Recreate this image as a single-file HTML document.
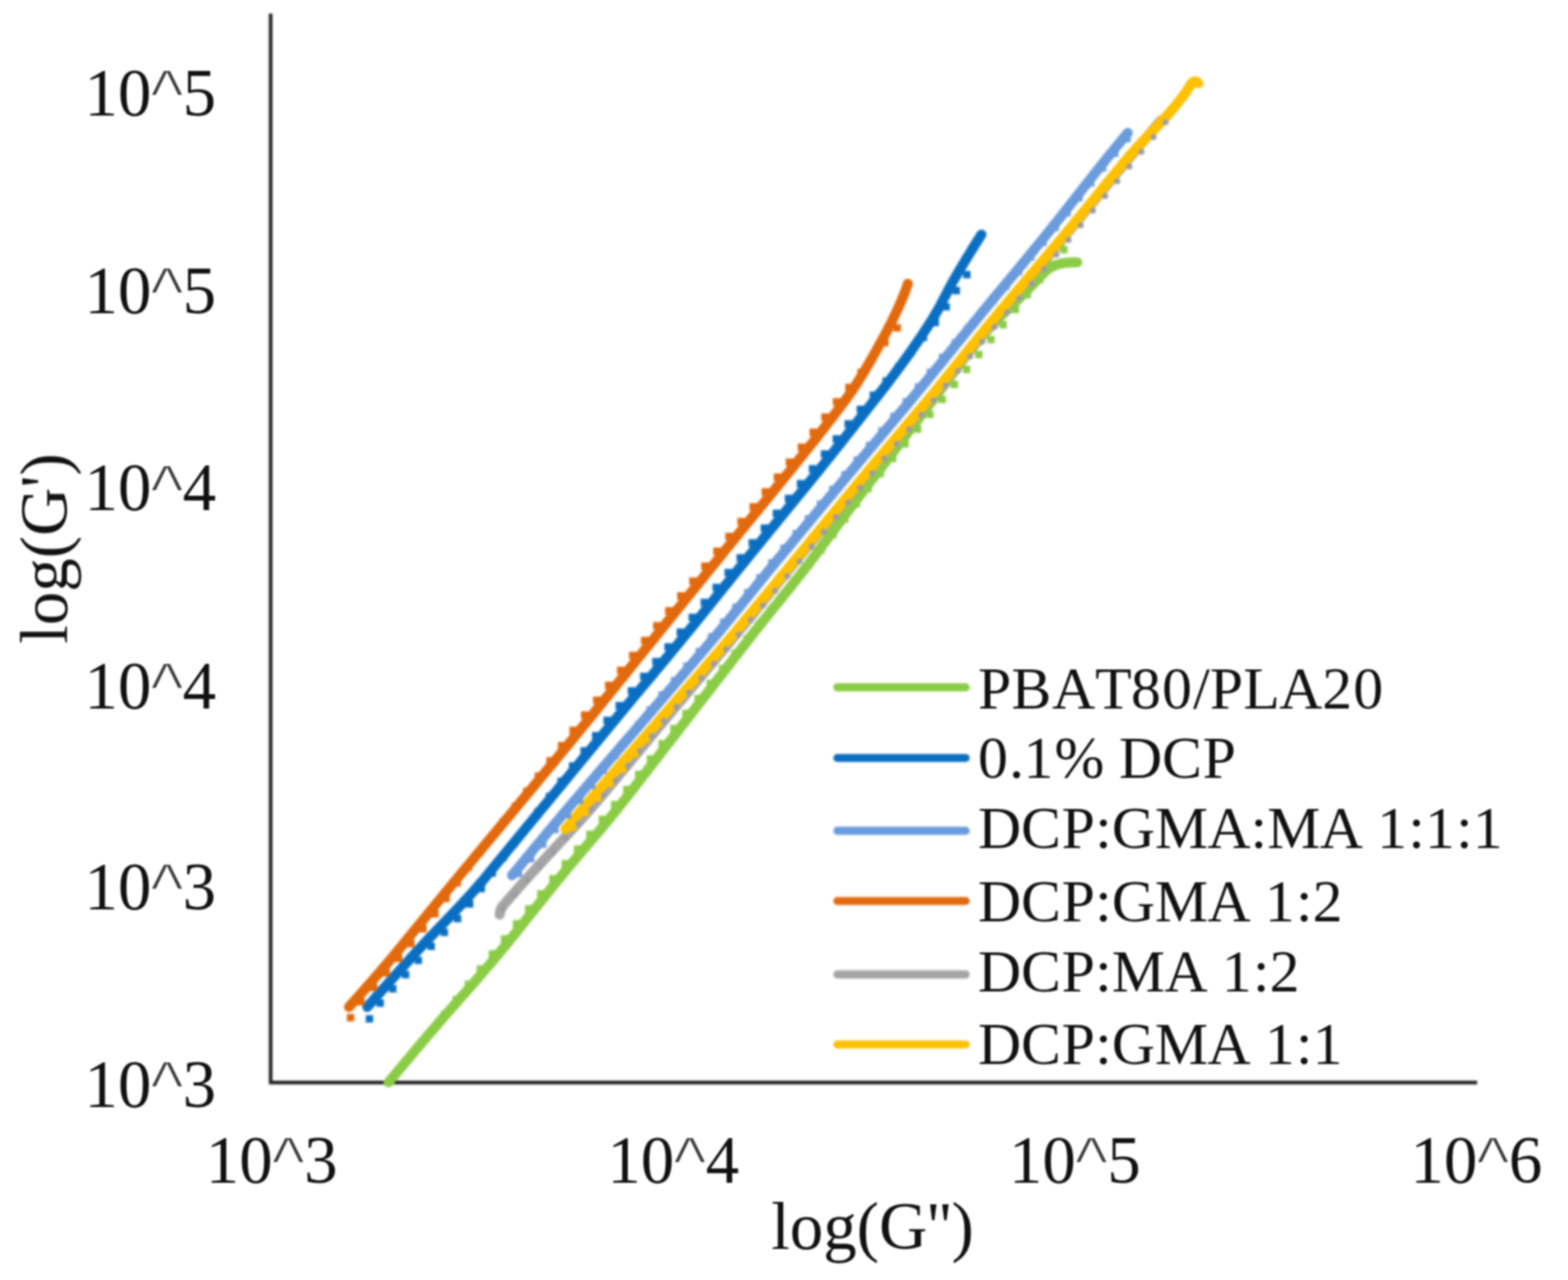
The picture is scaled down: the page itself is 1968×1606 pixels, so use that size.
<!DOCTYPE html>
<html lang="en">
<head>
<meta charset="utf-8">
<title>log(G') vs log(G'')</title>
<style>
html, body { margin: 0; padding: 0; background: #fff; }
body { width: 1968px; height: 1606px; overflow: hidden; }
svg { display: block; }
.soft { filter: blur(1.6px); }
.txt { filter: blur(1px); }
.c { font-family: 'Liberation Sans', 'DejaVu Sans', sans-serif; fill: #3a3a3a; stroke: #fff; stroke-width: 2px; paint-order: fill stroke; font-size: 89px; }
</style>
</head>
<body>
<svg width="1968" height="1606" viewBox="0 0 1968 1606">
<defs><clipPath id="plot"><rect x="330" y="0" width="1638" height="1364"/></clipPath></defs>
<rect width="1968" height="1606" fill="#fff"/>
<g class="soft">
<path d="M339.7,17.0 V1358.3 H1854.0" fill="none" stroke="#1c1c1c" stroke-width="4.4" stroke-linejoin="miter"/>
<g clip-path="url(#plot)" fill="none" stroke-linecap="round" stroke-linejoin="round">
<path class="s-green" d="M487.7,1358.0 L489.9,1355.4 L492.0,1352.8 L494.2,1350.2 L496.4,1347.6 L498.5,1345.0 L500.7,1342.4 L502.9,1339.8 L505.1,1337.2 L507.2,1334.6 L509.4,1332.0 L511.6,1329.4 L513.8,1326.8 L516.0,1324.2 L518.1,1321.6 L520.3,1319.0 L522.5,1316.4 L524.7,1313.8 L526.9,1311.2 L529.1,1308.6 L531.3,1306.0 L533.5,1303.5 L535.7,1300.9 L537.9,1298.3 L540.1,1295.7 L542.3,1293.1 L544.5,1290.6 L546.7,1288.0 L548.9,1285.4 L551.1,1282.9 L553.3,1280.3 L555.6,1277.7 L557.8,1275.2 L560.0,1272.6 L562.2,1270.1 L564.5,1267.5 L566.7,1265.0 L569.0,1262.4 L571.2,1259.9 L573.4,1257.3 L575.7,1254.8 L577.9,1252.2 L580.1,1249.7 L582.4,1247.1 L584.6,1244.6 L586.9,1242.0 L589.1,1239.5 L591.3,1236.9 L593.6,1234.4 L595.8,1231.8 L598.0,1229.3 L600.2,1226.7 L602.4,1224.1 L604.7,1221.6 L606.9,1219.0 L609.1,1216.4 L611.3,1213.9 L613.5,1211.3 L615.7,1208.7 L617.9,1206.1 L620.1,1203.5 L622.2,1200.9 L624.4,1198.3 L626.6,1195.7 L628.7,1193.1 L630.9,1190.5 L633.0,1187.9 L635.2,1185.2 L637.3,1182.6 L639.5,1180.0 L641.6,1177.3 L643.7,1174.7 L645.9,1172.1 L648.0,1169.4 L650.1,1166.8 L652.2,1164.1 L654.4,1161.5 L656.5,1158.8 L658.6,1156.2 L660.7,1153.5 L662.8,1150.9 L664.9,1148.2 L667.1,1145.6 L669.2,1142.9 L671.3,1140.3 L673.4,1137.6 L675.5,1135.0 L677.6,1132.3 L679.7,1129.7 L681.9,1127.0 L684.0,1124.4 L686.1,1121.7 L688.2,1119.1 L690.3,1116.5 L692.5,1113.8 L694.6,1111.2 L696.7,1108.5 L698.9,1105.9 L701.0,1103.3 L703.2,1100.7 L705.3,1098.0 L707.5,1095.4 L709.6,1092.8 L711.8,1090.2 L714.0,1087.6 L716.1,1085.0 L718.3,1082.4 L720.5,1079.8 L722.7,1077.2 L724.9,1074.6 L727.1,1072.0 L729.3,1069.4 L731.4,1066.9 L733.6,1064.3 L735.8,1061.7 L738.0,1059.1 L740.2,1056.5 L742.4,1053.9 L744.6,1051.3 L746.8,1048.8 L749.0,1046.2 L751.2,1043.6 L753.4,1041.0 L755.6,1038.4 L757.7,1035.8 L759.9,1033.2 L762.1,1030.6 L764.2,1028.0 L766.4,1025.4 L768.5,1022.7 L770.7,1020.1 L772.8,1017.5 L775.0,1014.8 L777.1,1012.2 L779.2,1009.5 L781.3,1006.9 L783.4,1004.2 L785.5,1001.6 L787.6,998.9 L789.6,996.2 L791.7,993.5 L793.8,990.8 L795.9,988.2 L798.0,985.5 L800.0,982.8 L802.1,980.1 L804.2,977.4 L806.2,974.7 L808.3,972.1 L810.4,969.4 L812.5,966.7 L814.5,964.0 L816.6,961.3 L818.7,958.7 L820.8,956.0 L822.8,953.3 L824.9,950.6 L827.0,947.9 L829.1,945.2 L831.1,942.6 L833.2,939.9 L835.3,937.2 L837.3,934.5 L839.4,931.8 L841.5,929.1 L843.6,926.4 L845.6,923.8 L847.7,921.1 L849.8,918.4 L851.8,915.7 L853.9,913.0 L856.0,910.4 L858.1,907.7 L860.1,905.0 L862.2,902.3 L864.3,899.6 L866.4,896.9 L868.4,894.3 L870.5,891.6 L872.6,888.9 L874.7,886.2 L876.7,883.5 L878.8,880.9 L880.9,878.2 L883.0,875.5 L885.0,872.8 L887.1,870.1 L889.2,867.4 L891.3,864.8 L893.3,862.1 L895.4,859.4 L897.5,856.7 L899.6,854.0 L901.6,851.4 L903.7,848.7 L905.8,846.0 L907.9,843.3 L909.9,840.6 L912.0,838.0 L914.1,835.3 L916.2,832.6 L918.2,829.9 L920.3,827.2 L922.4,824.5 L924.5,821.9 L926.5,819.2 L928.6,816.5 L930.7,813.8 L932.8,811.1 L934.8,808.5 L936.9,805.8 L939.0,803.1 L941.1,800.4 L943.2,797.7 L945.2,795.1 L947.3,792.4 L949.4,789.7 L951.5,787.1 L953.6,784.4 L955.7,781.8 L957.9,779.1 L960.0,776.5 L962.1,773.8 L964.2,771.2 L966.3,768.5 L968.5,765.9 L970.6,763.2 L972.7,760.6 L974.9,758.0 L977.0,755.3 L979.1,752.7 L981.3,750.1 L983.4,747.4 L985.5,744.8 L987.6,742.1 L989.8,739.5 L991.9,736.8 L994.0,734.2 L996.1,731.5 L998.2,728.9 L1000.3,726.2 L1002.4,723.6 L1004.5,720.9 L1006.6,718.2 L1008.7,715.6 L1010.8,712.9 L1012.8,710.2 L1014.9,707.5 L1017.0,704.8 L1019.0,702.1 L1021.0,699.4 L1023.1,696.7 L1025.1,694.0 L1027.1,691.3 L1029.2,688.5 L1031.2,685.8 L1033.2,683.1 L1035.2,680.4 L1037.3,677.7 L1039.3,674.9 L1041.3,672.2 L1043.3,669.5 L1045.4,666.8 L1047.4,664.1 L1049.4,661.3 L1051.4,658.6 L1053.5,655.9 L1055.5,653.2 L1057.5,650.5 L1059.5,647.7 L1061.6,645.0 L1063.6,642.3 L1065.6,639.6 L1067.7,636.9 L1069.7,634.2 L1071.7,631.4 L1073.7,628.7 L1075.8,626.0 L1077.8,623.3 L1079.9,620.6 L1081.9,617.9 L1083.9,615.2 L1086.0,612.5 L1088.1,609.8 L1090.1,607.1 L1092.2,604.4 L1094.3,601.8 L1096.4,599.1 L1098.4,596.4 L1100.5,593.7 L1102.6,591.0 L1104.7,588.4 L1106.7,585.7 L1108.8,583.0 L1110.9,580.3 L1112.9,577.6 L1115.0,574.9 L1117.0,572.2 L1119.1,569.5 L1121.2,566.8 L1123.2,564.1 L1125.3,561.4 L1127.3,558.7 L1129.4,556.0 L1131.4,553.3 L1133.5,550.6 L1135.5,547.9 L1137.6,545.2 L1139.7,542.5 L1141.7,539.9 L1143.8,537.2 L1145.8,534.5 L1147.9,531.8 L1149.9,529.1 L1152.0,526.4 L1154.1,523.7 L1156.1,521.0 L1158.2,518.3 L1160.3,515.6 L1162.3,512.9 L1164.4,510.2 L1166.4,507.5 L1168.5,504.8 L1170.6,502.2 L1172.6,499.5 L1174.7,496.8 L1176.7,494.1 L1178.8,491.4 L1180.8,488.6 L1182.8,485.9 L1184.9,483.2 L1186.9,480.5 L1188.9,477.8 L1190.9,475.1 L1193.0,472.3 L1195.0,469.6 L1197.0,466.9 L1199.0,464.2 L1201.1,461.5 L1203.1,458.8 L1205.2,456.1 L1207.2,453.4 L1209.3,450.7 L1211.4,448.0 L1213.5,445.4 L1215.6,442.7 L1217.7,440.0 L1219.8,437.4 L1221.9,434.8 L1224.1,432.1 L1226.2,429.5 L1228.4,426.9 L1230.6,424.3 L1232.8,421.7 L1235.0,419.1 L1237.2,416.5 L1239.4,414.0 L1241.7,411.5 L1244.0,409.0 L1246.4,406.5 L1248.7,404.1 L1251.1,401.7 L1253.4,399.3 L1255.8,396.9 L1258.2,394.5 L1260.7,392.1 L1263.1,389.7 L1265.6,387.4 L1268.1,385.1 L1270.5,382.8 L1273.0,380.4 L1275.4,378.1 L1277.9,375.7 L1280.3,373.3 L1282.7,370.9 L1285.0,368.5 L1287.4,366.1 L1289.7,363.6 L1292.1,361.2 L1294.4,358.7 L1296.8,356.3 L1299.2,353.9 L1301.5,351.4 L1303.9,349.0 L1306.2,346.5 L1308.5,344.1 L1310.9,341.6 L1313.4,339.3 L1316.1,337.3 L1319.0,335.5 L1322.0,333.9 L1325.2,332.6 L1328.5,331.5 L1331.7,330.7 L1335.1,330.1 L1338.4,329.7 L1341.8,329.4 L1345.2,329.2 L1348.6,329.1 L1352.0,329.2" stroke="#8ACC46" stroke-width="12.6"/>
<path class="s-blue" d="M461.0,1263.4 L463.0,1261.1 L465.1,1258.7 L467.2,1256.4 L469.2,1254.1 L471.3,1251.7 L473.3,1249.4 L475.4,1247.1 L477.4,1244.7 L479.5,1242.4 L481.6,1240.1 L483.6,1237.8 L485.7,1235.5 L487.8,1233.1 L489.9,1230.8 L491.9,1228.5 L494.0,1226.2 L496.1,1223.9 L498.1,1221.5 L500.2,1219.2 L502.3,1216.9 L504.4,1214.6 L506.4,1212.3 L508.5,1210.0 L510.6,1207.7 L512.7,1205.4 L514.8,1203.0 L516.8,1200.7 L518.9,1198.4 L521.0,1196.1 L523.1,1193.8 L525.2,1191.5 L527.3,1189.3 L529.4,1187.0 L531.6,1184.7 L533.7,1182.4 L535.8,1180.2 L538.0,1177.9 L540.1,1175.7 L542.3,1173.4 L544.4,1171.2 L546.6,1168.9 L548.7,1166.7 L550.9,1164.4 L553.0,1162.2 L555.2,1159.9 L557.3,1157.7 L559.5,1155.5 L561.6,1153.2 L563.8,1151.0 L565.9,1148.7 L568.1,1146.5 L570.2,1144.2 L572.4,1142.0 L574.5,1139.7 L576.6,1137.4 L578.8,1135.2 L580.9,1132.9 L583.0,1130.6 L585.1,1128.3 L587.2,1126.0 L589.3,1123.7 L591.4,1121.4 L593.5,1119.1 L595.5,1116.8 L597.6,1114.5 L599.6,1112.1 L601.7,1109.8 L603.7,1107.4 L605.7,1105.1 L607.7,1102.7 L609.7,1100.3 L611.6,1097.9 L613.6,1095.5 L615.6,1093.1 L617.6,1090.7 L619.5,1088.3 L621.5,1085.9 L623.5,1083.5 L625.5,1081.1 L627.4,1078.7 L629.4,1076.3 L631.4,1073.9 L633.4,1071.5 L635.4,1069.1 L637.3,1066.7 L639.3,1064.3 L641.3,1061.9 L643.3,1059.5 L645.2,1057.1 L647.2,1054.7 L649.2,1052.3 L651.2,1049.9 L653.1,1047.5 L655.1,1045.1 L657.1,1042.7 L659.1,1040.3 L661.0,1037.9 L663.0,1035.5 L665.0,1033.1 L667.0,1030.7 L668.9,1028.3 L670.9,1025.9 L672.9,1023.5 L674.9,1021.1 L676.8,1018.7 L678.8,1016.3 L680.8,1013.9 L682.8,1011.5 L684.7,1009.1 L686.7,1006.7 L688.7,1004.3 L690.7,1001.9 L692.6,999.5 L694.6,997.1 L696.6,994.7 L698.6,992.3 L700.5,989.9 L702.5,987.5 L704.5,985.1 L706.5,982.7 L708.4,980.3 L710.4,977.9 L712.4,975.5 L714.4,973.1 L716.3,970.7 L718.3,968.3 L720.3,965.9 L722.3,963.5 L724.2,961.1 L726.2,958.7 L728.2,956.3 L730.2,953.9 L732.1,951.5 L734.1,949.1 L736.1,946.7 L738.1,944.3 L740.0,941.9 L742.0,939.5 L744.0,937.1 L746.0,934.7 L747.9,932.3 L749.9,929.9 L751.9,927.5 L753.9,925.1 L755.9,922.7 L757.8,920.3 L759.8,917.9 L761.8,915.5 L763.8,913.1 L765.7,910.7 L767.7,908.3 L769.7,905.9 L771.7,903.5 L773.6,901.1 L775.6,898.7 L777.6,896.3 L779.6,893.9 L781.5,891.5 L783.5,889.1 L785.5,886.7 L787.5,884.3 L789.5,881.9 L791.5,879.5 L793.5,877.1 L795.4,874.7 L797.4,872.3 L799.4,870.0 L801.4,867.6 L803.4,865.2 L805.4,862.8 L807.4,860.4 L809.4,858.0 L811.4,855.6 L813.4,853.3 L815.4,850.9 L817.4,848.5 L819.4,846.1 L821.4,843.7 L823.3,841.3 L825.3,838.9 L827.3,836.6 L829.3,834.2 L831.3,831.8 L833.3,829.4 L835.3,827.0 L837.3,824.6 L839.3,822.2 L841.3,819.8 L843.2,817.4 L845.2,815.0 L847.2,812.6 L849.2,810.2 L851.2,807.8 L853.1,805.4 L855.1,803.0 L857.1,800.6 L859.0,798.2 L861.0,795.8 L863.0,793.4 L864.9,791.0 L866.9,788.6 L868.9,786.2 L870.8,783.8 L872.8,781.4 L874.7,778.9 L876.7,776.5 L878.6,774.1 L880.6,771.7 L882.5,769.3 L884.5,766.8 L886.5,764.4 L888.4,762.0 L890.3,759.6 L892.3,757.2 L894.2,754.7 L896.2,752.3 L898.1,749.9 L900.1,747.5 L902.0,745.0 L904.0,742.6 L905.9,740.2 L907.9,737.8 L909.8,735.3 L911.8,732.9 L913.7,730.5 L915.7,728.1 L917.6,725.7 L919.5,723.2 L921.5,720.8 L923.4,718.4 L925.4,716.0 L927.3,713.5 L929.3,711.1 L931.3,708.7 L933.2,706.3 L935.2,703.9 L937.1,701.5 L939.1,699.0 L941.0,696.6 L943.0,694.2 L945.0,691.8 L946.9,689.4 L948.9,687.0 L950.8,684.6 L952.8,682.2 L954.8,679.7 L956.7,677.3 L958.7,674.9 L960.7,672.5 L962.6,670.1 L964.6,667.7 L966.5,665.3 L968.5,662.9 L970.5,660.5 L972.4,658.1 L974.4,655.7 L976.4,653.2 L978.3,650.8 L980.3,648.4 L982.3,646.0 L984.2,643.6 L986.2,641.2 L988.2,638.8 L990.1,636.4 L992.1,634.0 L994.1,631.6 L996.0,629.2 L998.0,626.8 L1000.0,624.3 L1001.9,621.9 L1003.9,619.5 L1005.9,617.1 L1007.8,614.7 L1009.8,612.3 L1011.8,609.9 L1013.7,607.5 L1015.7,605.1 L1017.6,602.7 L1019.6,600.2 L1021.6,597.8 L1023.5,595.4 L1025.5,593.0 L1027.4,590.6 L1029.4,588.2 L1031.3,585.7 L1033.3,583.3 L1035.2,580.9 L1037.2,578.5 L1039.1,576.0 L1041.0,573.6 L1043.0,571.2 L1044.9,568.7 L1046.8,566.3 L1048.8,563.9 L1050.7,561.4 L1052.6,559.0 L1054.6,556.6 L1056.5,554.1 L1058.4,551.7 L1060.4,549.3 L1062.3,546.8 L1064.2,544.4 L1066.1,541.9 L1068.0,539.5 L1070.0,537.0 L1071.9,534.6 L1073.8,532.2 L1075.7,529.7 L1077.6,527.3 L1079.6,524.8 L1081.5,522.4 L1083.4,519.9 L1085.3,517.5 L1087.2,515.0 L1089.1,512.6 L1091.1,510.1 L1093.0,507.7 L1094.9,505.2 L1096.8,502.8 L1098.7,500.3 L1100.7,497.9 L1102.6,495.4 L1104.5,493.0 L1106.4,490.5 L1108.3,488.1 L1110.2,485.6 L1112.1,483.1 L1114.0,480.7 L1115.8,478.2 L1117.7,475.7 L1119.6,473.2 L1121.5,470.7 L1123.3,468.3 L1125.2,465.8 L1127.0,463.3 L1128.9,460.8 L1130.7,458.3 L1132.6,455.7 L1134.4,453.2 L1136.2,450.7 L1138.0,448.2 L1139.8,445.7 L1141.6,443.1 L1143.4,440.6 L1145.2,438.0 L1147.0,435.5 L1148.8,432.9 L1150.5,430.4 L1152.3,427.8 L1154.0,425.2 L1155.8,422.7 L1157.5,420.1 L1159.2,417.5 L1160.9,414.9 L1162.6,412.3 L1164.3,409.7 L1166.0,407.1 L1167.7,404.4 L1169.4,401.8 L1171.0,399.2 L1172.6,396.5 L1174.2,393.8 L1175.8,391.1 L1177.3,388.4 L1178.8,385.7 L1180.3,383.0 L1181.7,380.2 L1183.2,377.4 L1184.6,374.7 L1186.0,371.9 L1187.5,369.2 L1188.9,366.4 L1190.3,363.7 L1191.8,360.9 L1193.3,358.2 L1194.8,355.4 L1196.3,352.7 L1197.8,350.0 L1199.4,347.4 L1201.0,344.7 L1202.6,342.0 L1204.1,339.3 L1205.7,336.7 L1207.3,334.0 L1208.9,331.3 L1210.5,328.7 L1212.1,326.0 L1213.7,323.3 L1215.3,320.7 L1217.0,318.0 L1218.6,315.4 L1220.2,312.7 L1221.8,310.1 L1223.5,307.4 L1225.1,304.8 L1226.8,302.2 L1228.5,299.5 L1230.1,296.9 L1231.8,294.3" stroke="#0A6FC2" stroke-width="12.6"/>
<path class="s-lblue" d="M642.7,1098.3 L644.6,1096.0 L646.6,1093.6 L648.5,1091.3 L650.4,1088.9 L652.4,1086.6 L654.3,1084.3 L656.2,1081.9 L658.2,1079.6 L660.1,1077.3 L662.0,1074.9 L664.0,1072.6 L665.9,1070.3 L667.9,1067.9 L669.8,1065.6 L671.7,1063.3 L673.7,1060.9 L675.6,1058.6 L677.6,1056.3 L679.5,1053.9 L681.4,1051.6 L683.4,1049.3 L685.3,1046.9 L687.3,1044.6 L689.2,1042.3 L691.2,1040.0 L693.1,1037.6 L695.1,1035.3 L697.0,1033.0 L699.0,1030.7 L700.9,1028.4 L702.9,1026.0 L704.8,1023.7 L706.8,1021.4 L708.8,1019.1 L710.7,1016.8 L712.7,1014.5 L714.6,1012.1 L716.6,1009.8 L718.6,1007.5 L720.5,1005.2 L722.5,1002.9 L724.5,1000.6 L726.5,998.3 L728.4,996.0 L730.4,993.7 L732.4,991.4 L734.4,989.1 L736.3,986.8 L738.3,984.5 L740.3,982.2 L742.3,979.9 L744.2,977.6 L746.2,975.3 L748.2,973.0 L750.2,970.7 L752.2,968.4 L754.1,966.1 L756.1,963.8 L758.1,961.5 L760.1,959.2 L762.1,956.9 L764.0,954.6 L766.0,952.3 L768.0,950.0 L770.0,947.7 L772.0,945.4 L774.0,943.1 L775.9,940.8 L777.9,938.5 L779.9,936.2 L781.9,933.9 L783.9,931.6 L785.8,929.3 L787.8,927.0 L789.8,924.7 L791.8,922.4 L793.8,920.1 L795.8,917.9 L797.7,915.6 L799.7,913.3 L801.7,911.0 L803.7,908.7 L805.6,906.4 L807.6,904.1 L809.6,901.7 L811.6,899.4 L813.5,897.1 L815.5,894.8 L817.5,892.5 L819.5,890.2 L821.5,887.9 L823.4,885.6 L825.4,883.3 L827.4,881.0 L829.4,878.7 L831.3,876.4 L833.3,874.1 L835.3,871.8 L837.3,869.5 L839.2,867.2 L841.2,864.9 L843.2,862.6 L845.2,860.3 L847.1,858.0 L849.1,855.7 L851.1,853.4 L853.0,851.1 L855.0,848.8 L857.0,846.5 L859.0,844.2 L860.9,841.9 L862.9,839.6 L864.9,837.2 L866.8,834.9 L868.8,832.6 L870.8,830.3 L872.7,828.0 L874.7,825.7 L876.7,823.4 L878.6,821.1 L880.6,818.8 L882.5,816.4 L884.5,814.1 L886.5,811.8 L888.4,809.5 L890.4,807.2 L892.3,804.8 L894.3,802.5 L896.2,800.2 L898.2,797.9 L900.1,795.6 L902.1,793.2 L904.0,790.9 L905.9,788.6 L907.9,786.2 L909.8,783.9 L911.7,781.5 L913.7,779.2 L915.6,776.8 L917.5,774.5 L919.4,772.1 L921.3,769.8 L923.2,767.4 L925.2,765.1 L927.1,762.7 L929.0,760.4 L930.9,758.0 L932.8,755.6 L934.7,753.3 L936.6,750.9 L938.5,748.6 L940.4,746.2 L942.3,743.8 L944.2,741.5 L946.1,739.1 L948.0,736.8 L949.9,734.4 L951.8,732.0 L953.8,729.7 L955.7,727.3 L957.6,725.0 L959.5,722.6 L961.4,720.3 L963.3,717.9 L965.2,715.6 L967.1,713.2 L969.1,710.9 L971.0,708.5 L972.9,706.2 L974.8,703.8 L976.8,701.5 L978.7,699.1 L980.6,696.8 L982.6,694.5 L984.5,692.1 L986.4,689.8 L988.4,687.5 L990.3,685.1 L992.3,682.8 L994.2,680.4 L996.1,678.1 L998.1,675.8 L1000.0,673.4 L1001.9,671.1 L1003.9,668.8 L1005.8,666.4 L1007.7,664.1 L1009.7,661.8 L1011.6,659.4 L1013.5,657.1 L1015.5,654.8 L1017.4,652.4 L1019.4,650.1 L1021.3,647.8 L1023.2,645.4 L1025.2,643.1 L1027.1,640.8 L1029.0,638.4 L1031.0,636.1 L1032.9,633.8 L1034.9,631.4 L1036.8,629.1 L1038.7,626.8 L1040.7,624.4 L1042.6,622.1 L1044.6,619.8 L1046.5,617.4 L1048.4,615.1 L1050.4,612.8 L1052.3,610.4 L1054.3,608.1 L1056.2,605.8 L1058.1,603.4 L1060.1,601.1 L1062.0,598.8 L1064.0,596.4 L1065.9,594.1 L1067.9,591.8 L1069.8,589.5 L1071.7,587.1 L1073.7,584.8 L1075.6,582.5 L1077.6,580.2 L1079.5,577.8 L1081.5,575.5 L1083.4,573.2 L1085.4,570.9 L1087.4,568.5 L1089.3,566.2 L1091.3,563.9 L1093.2,561.6 L1095.2,559.3 L1097.1,556.9 L1099.1,554.6 L1101.0,552.3 L1103.0,550.0 L1104.9,547.7 L1106.9,545.3 L1108.8,543.0 L1110.8,540.7 L1112.7,538.4 L1114.7,536.0 L1116.6,533.7 L1118.6,531.4 L1120.5,529.1 L1122.5,526.7 L1124.4,524.4 L1126.4,522.1 L1128.3,519.8 L1130.3,517.4 L1132.2,515.1 L1134.2,512.8 L1136.1,510.5 L1138.1,508.1 L1140.0,505.8 L1141.9,503.5 L1143.9,501.1 L1145.8,498.8 L1147.7,496.4 L1149.7,494.1 L1151.6,491.8 L1153.5,489.4 L1155.5,487.1 L1157.4,484.7 L1159.3,482.4 L1161.2,480.0 L1163.1,477.7 L1165.1,475.3 L1167.0,473.0 L1168.9,470.6 L1170.8,468.3 L1172.7,465.9 L1174.6,463.6 L1176.5,461.2 L1178.4,458.9 L1180.4,456.5 L1182.3,454.1 L1184.2,451.8 L1186.1,449.4 L1188.0,447.1 L1189.9,444.7 L1191.8,442.4 L1193.7,440.0 L1195.6,437.6 L1197.5,435.3 L1199.4,432.9 L1201.3,430.6 L1203.3,428.2 L1205.2,425.8 L1207.1,423.5 L1209.0,421.1 L1210.9,418.8 L1212.8,416.4 L1214.7,414.1 L1216.6,411.7 L1218.6,409.4 L1220.5,407.0 L1222.4,404.7 L1224.3,402.3 L1226.2,400.0 L1228.2,397.6 L1230.1,395.3 L1232.0,392.9 L1233.9,390.6 L1235.9,388.2 L1237.8,385.9 L1239.7,383.6 L1241.6,381.2 L1243.6,378.9 L1245.5,376.5 L1247.4,374.2 L1249.4,371.9 L1251.3,369.5 L1253.3,367.2 L1255.2,364.9 L1257.1,362.5 L1259.1,360.2 L1261.0,357.9 L1262.9,355.5 L1264.9,353.2 L1266.8,350.9 L1268.8,348.5 L1270.7,346.2 L1272.6,343.9 L1274.6,341.5 L1276.5,339.2 L1278.4,336.9 L1280.4,334.5 L1282.3,332.2 L1284.2,329.8 L1286.2,327.5 L1288.1,325.2 L1290.0,322.8 L1292.0,320.5 L1293.9,318.2 L1295.8,315.8 L1297.8,313.5 L1299.7,311.1 L1301.6,308.8 L1303.5,306.4 L1305.5,304.1 L1307.4,301.7 L1309.3,299.4 L1311.2,297.0 L1313.1,294.7 L1315.0,292.3 L1316.9,290.0 L1318.8,287.6 L1320.7,285.2 L1322.6,282.9 L1324.5,280.5 L1326.4,278.1 L1328.3,275.7 L1330.2,273.4 L1332.1,271.0 L1334.0,268.6 L1335.8,266.2 L1337.7,263.8 L1339.6,261.5 L1341.5,259.1 L1343.3,256.7 L1345.2,254.3 L1347.1,251.9 L1349.0,249.5 L1350.8,247.1 L1352.7,244.8 L1354.6,242.4 L1356.5,240.0 L1358.3,237.6 L1360.2,235.2 L1362.1,232.8 L1364.0,230.4 L1365.8,228.1 L1367.7,225.7 L1369.6,223.3 L1371.5,220.9 L1373.4,218.5 L1375.2,216.2 L1377.1,213.8 L1379.0,211.4 L1380.9,209.1 L1382.8,206.7 L1384.7,204.3 L1386.6,202.0 L1388.5,199.6 L1390.4,197.2 L1392.3,194.9 L1394.3,192.5 L1396.2,190.2 L1398.1,187.8 L1400.0,185.5 L1401.9,183.1 L1403.9,180.8 L1405.8,178.5 L1407.7,176.1 L1409.7,173.8 L1411.6,171.5 L1413.6,169.1 L1415.5,166.8" stroke="#6A9BDC" stroke-width="12.6"/>
<path class="s-orange" d="M438.1,1263.4 L440.0,1261.3 L442.0,1259.1 L443.9,1257.0 L445.8,1254.8 L447.7,1252.7 L449.6,1250.5 L451.6,1248.4 L453.5,1246.2 L455.4,1244.1 L457.3,1241.9 L459.2,1239.7 L461.1,1237.6 L463.0,1235.4 L464.9,1233.3 L466.8,1231.1 L468.7,1228.9 L470.6,1226.7 L472.5,1224.6 L474.4,1222.4 L476.3,1220.2 L478.2,1218.0 L480.0,1215.8 L481.9,1213.6 L483.8,1211.5 L485.6,1209.3 L487.5,1207.1 L489.4,1204.8 L491.2,1202.6 L493.1,1200.4 L494.9,1198.2 L496.7,1196.0 L498.6,1193.8 L500.4,1191.5 L502.2,1189.3 L504.1,1187.1 L505.9,1184.9 L507.7,1182.6 L509.6,1180.4 L511.4,1178.2 L513.2,1176.0 L515.1,1173.7 L516.9,1171.5 L518.7,1169.3 L520.5,1167.1 L522.4,1164.8 L524.2,1162.6 L526.0,1160.4 L527.8,1158.1 L529.7,1155.9 L531.5,1153.7 L533.3,1151.4 L535.1,1149.2 L537.0,1147.0 L538.8,1144.7 L540.6,1142.5 L542.4,1140.3 L544.3,1138.1 L546.1,1135.8 L547.9,1133.6 L549.8,1131.4 L551.6,1129.1 L553.4,1126.9 L555.2,1124.7 L557.1,1122.5 L558.9,1120.2 L560.7,1118.0 L562.6,1115.8 L564.4,1113.6 L566.2,1111.3 L568.1,1109.1 L569.9,1106.9 L571.7,1104.7 L573.6,1102.4 L575.4,1100.2 L577.3,1098.0 L579.1,1095.8 L580.9,1093.6 L582.8,1091.4 L584.6,1089.1 L586.5,1086.9 L588.3,1084.7 L590.1,1082.5 L592.0,1080.3 L593.8,1078.1 L595.7,1075.8 L597.5,1073.6 L599.4,1071.4 L601.2,1069.2 L603.0,1067.0 L604.9,1064.8 L606.7,1062.5 L608.6,1060.3 L610.4,1058.1 L612.3,1055.9 L614.1,1053.7 L615.9,1051.5 L617.8,1049.3 L619.6,1047.0 L621.5,1044.8 L623.3,1042.6 L625.2,1040.4 L627.0,1038.2 L628.8,1036.0 L630.7,1033.7 L632.5,1031.5 L634.4,1029.3 L636.2,1027.1 L638.1,1024.9 L639.9,1022.7 L641.7,1020.4 L643.6,1018.2 L645.4,1016.0 L647.3,1013.8 L649.1,1011.6 L650.9,1009.4 L652.8,1007.1 L654.6,1004.9 L656.5,1002.7 L658.3,1000.5 L660.1,998.3 L662.0,996.0 L663.8,993.8 L665.7,991.6 L667.5,989.4 L669.3,987.2 L671.2,984.9 L673.0,982.7 L674.9,980.5 L676.7,978.3 L678.5,976.1 L680.4,973.8 L682.2,971.6 L684.0,969.4 L685.9,967.2 L687.7,965.0 L689.6,962.7 L691.4,960.5 L693.2,958.3 L695.1,956.1 L696.9,953.9 L698.7,951.6 L700.6,949.4 L702.4,947.2 L704.2,945.0 L706.1,942.7 L707.9,940.5 L709.7,938.3 L711.6,936.1 L713.4,933.8 L715.2,931.6 L717.1,929.4 L718.9,927.2 L720.7,924.9 L722.5,922.7 L724.4,920.5 L726.2,918.2 L728.0,916.0 L729.8,913.8 L731.6,911.5 L733.5,909.3 L735.3,907.1 L737.1,904.8 L738.9,902.6 L740.7,900.3 L742.5,898.1 L744.4,895.9 L746.2,893.6 L748.0,891.4 L749.8,889.1 L751.6,886.9 L753.4,884.6 L755.2,882.4 L757.0,880.2 L758.8,877.9 L760.6,875.7 L762.5,873.4 L764.3,871.2 L766.1,868.9 L767.9,866.7 L769.7,864.5 L771.5,862.2 L773.3,860.0 L775.1,857.7 L776.9,855.5 L778.7,853.2 L780.6,851.0 L782.4,848.8 L784.2,846.5 L786.0,844.3 L787.8,842.0 L789.6,839.8 L791.4,837.5 L793.2,835.3 L795.0,833.1 L796.8,830.8 L798.6,828.6 L800.5,826.3 L802.3,824.1 L804.1,821.8 L805.9,819.6 L807.7,817.3 L809.5,815.1 L811.3,812.9 L813.1,810.6 L814.9,808.4 L816.7,806.1 L818.6,803.9 L820.4,801.7 L822.2,799.4 L824.0,797.2 L825.8,794.9 L827.6,792.7 L829.4,790.4 L831.2,788.2 L833.0,786.0 L834.9,783.7 L836.7,781.5 L838.5,779.2 L840.3,777.0 L842.1,774.7 L843.9,772.5 L845.7,770.3 L847.5,768.0 L849.3,765.8 L851.2,763.5 L853.0,761.3 L854.8,759.1 L856.6,756.8 L858.4,754.6 L860.2,752.3 L862.0,750.1 L863.8,747.8 L865.6,745.6 L867.5,743.4 L869.3,741.1 L871.1,738.9 L872.9,736.6 L874.7,734.4 L876.5,732.2 L878.3,729.9 L880.1,727.7 L882.0,725.4 L883.8,723.2 L885.6,720.9 L887.4,718.7 L889.2,716.5 L891.0,714.2 L892.8,712.0 L894.6,709.7 L896.4,707.5 L898.3,705.3 L900.1,703.0 L901.9,700.8 L903.7,698.5 L905.5,696.3 L907.3,694.0 L909.1,691.8 L910.9,689.6 L912.8,687.3 L914.6,685.1 L916.4,682.9 L918.2,680.6 L920.0,678.4 L921.9,676.1 L923.7,673.9 L925.5,671.7 L927.3,669.4 L929.1,667.2 L931.0,665.0 L932.8,662.7 L934.6,660.5 L936.4,658.3 L938.2,656.0 L940.1,653.8 L941.9,651.6 L943.7,649.3 L945.5,647.1 L947.4,644.9 L949.2,642.7 L951.0,640.4 L952.8,638.2 L954.7,636.0 L956.5,633.7 L958.3,631.5 L960.1,629.3 L962.0,627.0 L963.8,624.8 L965.6,622.6 L967.4,620.3 L969.2,618.1 L971.1,615.9 L972.9,613.6 L974.7,611.4 L976.5,609.2 L978.4,606.9 L980.2,604.7 L982.0,602.5 L983.8,600.2 L985.6,598.0 L987.4,595.8 L989.3,593.5 L991.1,591.3 L992.9,589.0 L994.7,586.8 L996.5,584.6 L998.3,582.3 L1000.1,580.1 L1001.9,577.8 L1003.7,575.6 L1005.5,573.3 L1007.3,571.1 L1009.1,568.8 L1010.9,566.6 L1012.7,564.3 L1014.5,562.1 L1016.3,559.8 L1018.1,557.6 L1019.9,555.3 L1021.7,553.1 L1023.5,550.8 L1025.3,548.5 L1027.0,546.3 L1028.8,544.0 L1030.6,541.7 L1032.4,539.5 L1034.1,537.2 L1035.9,534.9 L1037.7,532.6 L1039.4,530.3 L1041.2,528.1 L1043.0,525.8 L1044.7,523.5 L1046.5,521.2 L1048.2,518.9 L1050.0,516.6 L1051.7,514.3 L1053.5,512.0 L1055.2,509.7 L1056.9,507.4 L1058.7,505.1 L1060.4,502.8 L1062.1,500.5 L1063.9,498.2 L1065.5,495.8 L1067.2,493.5 L1068.9,491.1 L1070.5,488.7 L1072.1,486.3 L1073.7,483.9 L1075.2,481.5 L1076.8,479.1 L1078.3,476.6 L1079.8,474.2 L1081.3,471.7 L1082.8,469.3 L1084.3,466.8 L1085.8,464.3 L1087.2,461.8 L1088.7,459.3 L1090.1,456.8 L1091.6,454.3 L1093.0,451.8 L1094.4,449.3 L1095.8,446.8 L1097.3,444.3 L1098.7,441.8 L1100.1,439.3 L1101.5,436.7 L1102.9,434.2 L1104.3,431.7 L1105.7,429.2 L1107.1,426.7 L1108.5,424.1 L1109.8,421.6 L1111.2,419.0 L1112.6,416.5 L1113.9,414.0 L1115.2,411.4 L1116.5,408.8 L1117.9,406.3 L1119.2,403.7 L1120.4,401.1 L1121.7,398.5 L1123.0,395.9 L1124.2,393.3 L1125.4,390.7 L1126.6,388.1 L1127.8,385.5 L1129.0,382.8 L1130.1,380.2 L1131.3,377.5 L1132.4,374.9 L1133.5,372.2 L1134.5,369.5 L1135.6,366.8 L1136.6,364.1 L1137.6,361.4 L1138.6,358.7 L1139.5,356.0" stroke="#E2690C" stroke-width="12.6"/>
<path class="s-gray" d="M627.2,1147.5 L627.6,1144.1 L628.4,1140.9 L629.9,1138.1 L632.0,1135.6 L634.1,1133.2 L636.2,1130.7 L638.4,1128.2 L640.5,1125.8 L642.6,1123.3 L644.8,1120.9 L646.9,1118.4 L649.0,1116.0 L651.2,1113.5 L653.4,1111.1 L655.5,1108.7 L657.7,1106.2 L659.9,1103.8 L662.0,1101.4 L664.2,1099.0 L666.4,1096.6 L668.6,1094.2 L670.8,1091.8 L673.0,1089.4 L675.2,1087.0 L677.4,1084.6 L679.6,1082.2 L681.8,1079.8 L684.0,1077.4 L686.2,1075.0 L688.4,1072.6 L690.7,1070.3 L692.9,1067.9 L695.1,1065.5 L697.3,1063.1 L699.5,1060.7 L701.7,1058.3 L703.9,1056.0 L706.2,1053.6 L708.4,1051.2 L710.6,1048.8 L712.8,1046.4 L715.0,1044.0 L717.2,1041.6 L719.4,1039.2 L721.6,1036.8 L723.8,1034.4 L726.0,1032.0 L728.1,1029.6 L730.3,1027.2 L732.5,1024.8 L734.6,1022.3 L736.8,1019.9 L739.0,1017.5 L741.1,1015.0 L743.2,1012.6 L745.4,1010.1 L747.5,1007.7 L749.6,1005.2 L751.7,1002.7 L753.8,1000.2 L755.9,997.7 L758.0,995.2 L760.1,992.7 L762.2,990.3 L764.3,987.8 L766.3,985.3 L768.4,982.8 L770.5,980.3 L772.6,977.8 L774.7,975.3 L776.7,972.8 L778.8,970.3 L780.9,967.8 L783.0,965.2 L785.0,962.7 L787.1,960.2 L789.2,957.7 L791.3,955.2 L793.3,952.7 L795.4,950.2 L797.5,947.7 L799.6,945.2 L801.6,942.7 L803.7,940.2 L805.8,937.7 L807.8,935.2 L809.9,932.7 L812.0,930.2 L814.1,927.6 L816.1,925.1 L818.2,922.6 L820.3,920.1 L822.4,917.6 L824.4,915.1 L826.5,912.6 L828.6,910.1 L830.7,907.6 L832.7,905.1 L834.8,902.6 L836.9,900.1 L839.0,897.6 L841.1,895.1 L843.2,892.6 L845.2,890.1 L847.3,887.6 L849.4,885.1 L851.5,882.6 L853.6,880.2 L855.7,877.7 L857.8,875.2 L859.9,872.7 L861.9,870.2 L864.0,867.7 L866.1,865.2 L868.2,862.7 L870.3,860.2 L872.4,857.7 L874.5,855.2 L876.6,852.7 L878.7,850.2 L880.8,847.7 L882.8,845.3 L884.9,842.8 L887.0,840.3 L889.1,837.8 L891.2,835.3 L893.3,832.8 L895.4,830.3 L897.4,827.8 L899.5,825.3 L901.6,822.8 L903.7,820.3 L905.8,817.8 L907.8,815.3 L909.9,812.8 L912.0,810.3 L914.1,807.8 L916.1,805.3 L918.2,802.8 L920.3,800.3 L922.4,797.7 L924.4,795.2 L926.5,792.7 L928.6,790.2 L930.6,787.7 L932.7,785.2 L934.7,782.7 L936.8,780.1 L938.9,777.6 L940.9,775.1 L943.0,772.6 L945.0,770.1 L947.1,767.5 L949.1,765.0 L951.2,762.5 L953.2,760.0 L955.3,757.4 L957.3,754.9 L959.4,752.4 L961.4,749.9 L963.5,747.4 L965.5,744.8 L967.6,742.3 L969.6,739.8 L971.7,737.2 L973.7,734.7 L975.8,732.2 L977.8,729.7 L979.9,727.1 L981.9,724.6 L984.0,722.1 L986.0,719.6 L988.1,717.1 L990.1,714.5 L992.2,712.0 L994.3,709.5 L996.3,707.0 L998.4,704.4 L1000.4,701.9 L1002.5,699.4 L1004.5,696.9 L1006.6,694.4 L1008.7,691.9 L1010.7,689.3 L1012.8,686.8 L1014.8,684.3 L1016.9,681.8 L1019.0,679.3 L1021.0,676.7 L1023.1,674.2 L1025.1,671.7 L1027.2,669.2 L1029.3,666.7 L1031.3,664.2 L1033.4,661.6 L1035.4,659.1 L1037.5,656.6 L1039.6,654.1 L1041.6,651.6 L1043.7,649.1 L1045.8,646.6 L1047.8,644.0 L1049.9,641.5 L1051.9,639.0 L1054.0,636.5 L1056.1,634.0 L1058.1,631.5 L1060.2,629.0 L1062.3,626.4 L1064.3,623.9 L1066.4,621.4 L1068.5,618.9 L1070.5,616.4 L1072.6,613.9 L1074.6,611.4 L1076.7,608.9 L1078.8,606.3 L1080.8,603.8 L1082.9,601.3 L1085.0,598.8 L1087.1,596.3 L1089.1,593.8 L1091.2,591.3 L1093.3,588.8 L1095.4,586.3 L1097.4,583.8 L1099.5,581.3 L1101.6,578.8 L1103.7,576.3 L1105.8,573.8 L1107.9,571.3 L1110.0,568.8 L1112.1,566.4 L1114.2,563.9 L1116.3,561.4 L1118.4,558.9 L1120.5,556.4 L1122.6,553.9 L1124.7,551.5 L1126.8,549.0 L1128.9,546.5 L1131.0,544.0 L1133.1,541.5 L1135.2,539.1 L1137.3,536.6 L1139.4,534.1 L1141.5,531.6 L1143.6,529.1 L1145.7,526.6 L1147.8,524.1 L1149.9,521.7 L1152.0,519.2 L1154.1,516.7 L1156.2,514.2 L1158.3,511.7 L1160.3,509.2 L1162.4,506.7 L1164.5,504.2 L1166.6,501.7 L1168.7,499.2 L1170.7,496.7 L1172.8,494.2 L1174.9,491.7 L1176.9,489.2 L1179.0,486.6 L1181.1,484.1 L1183.1,481.6 L1185.2,479.1 L1187.2,476.6 L1189.3,474.0 L1191.3,471.5 L1193.4,469.0 L1195.4,466.5 L1197.5,463.9 L1199.5,461.4 L1201.6,458.9 L1203.6,456.3 L1205.6,453.8 L1207.7,451.3 L1209.7,448.8 L1211.8,446.2 L1213.8,443.7 L1215.9,441.2 L1217.9,438.6 L1220.0,436.1 L1222.0,433.6 L1224.1,431.1 L1226.1,428.5 L1228.2,426.0 L1230.2,423.5 L1232.3,421.0 L1234.3,418.4 L1236.4,415.9 L1238.4,413.4 L1240.5,410.9 L1242.6,408.4 L1244.6,405.9 L1246.7,403.4 L1248.8,400.9 L1250.9,398.4 L1252.9,395.9 L1255.0,393.4 L1257.1,390.9 L1259.2,388.4 L1261.3,385.9 L1263.4,383.4 L1265.5,380.9 L1267.6,378.4 L1269.7,375.9 L1271.7,373.4 L1273.8,370.9 L1275.9,368.4 L1278.0,366.0 L1280.1,363.5 L1282.2,361.0 L1284.3,358.5 L1286.4,356.0 L1288.5,353.5 L1290.6,351.0 L1292.7,348.6 L1294.8,346.1 L1296.9,343.6 L1299.0,341.1 L1301.1,338.6 L1303.2,336.1 L1305.3,333.7 L1307.4,331.2 L1309.5,328.7 L1311.6,326.2 L1313.7,323.7 L1315.8,321.2 L1317.9,318.7 L1320.0,316.2 L1322.1,313.7 L1324.1,311.2 L1326.2,308.7 L1328.3,306.2 L1330.4,303.7 L1332.5,301.2 L1334.5,298.7 L1336.6,296.2 L1338.7,293.7 L1340.8,291.2 L1342.8,288.7 L1344.9,286.2 L1347.0,283.7 L1349.1,281.2 L1351.1,278.7 L1353.2,276.2 L1355.3,273.7 L1357.3,271.2 L1359.4,268.6 L1361.5,266.1 L1363.5,263.6 L1365.6,261.1 L1367.7,258.6 L1369.7,256.1 L1371.8,253.6 L1373.9,251.1 L1375.9,248.5 L1378.0,246.0 L1380.1,243.5 L1382.1,241.0 L1384.2,238.5 L1386.3,236.0 L1388.3,233.5 L1390.4,231.0 L1392.5,228.5 L1394.5,225.9 L1396.6,223.4 L1398.7,220.9 L1400.7,218.4 L1402.8,215.9 L1404.9,213.4 L1407.0,210.9 L1409.0,208.4 L1411.1,205.9 L1413.2,203.4 L1415.3,200.9 L1417.3,198.4 L1419.4,195.9 L1421.5,193.4 L1423.6,190.9 L1425.7,188.4 L1427.7,185.9 L1429.8,183.4 L1431.9,180.9 L1434.0,178.4 L1436.1,175.9 L1438.2,173.4 L1440.3,170.9 L1442.4,168.4 L1444.4,165.9 L1446.5,163.4 L1448.6,161.0 L1450.7,158.5 L1452.8,156.0 L1454.9,153.5 L1457.0,151.0" stroke="#A5A5A5" stroke-width="12.6"/>
<path class="s-yellow" d="M709.8,1040.3 L711.8,1037.9 L713.8,1035.6 L715.8,1033.2 L717.7,1030.8 L719.7,1028.5 L721.7,1026.1 L723.7,1023.8 L725.7,1021.4 L727.7,1019.0 L729.7,1016.7 L731.7,1014.3 L733.7,1012.0 L735.7,1009.6 L737.7,1007.3 L739.7,1005.0 L741.7,1002.6 L743.8,1000.3 L745.8,997.9 L747.8,995.6 L749.8,993.3 L751.8,990.9 L753.9,988.6 L755.9,986.3 L757.9,983.9 L759.9,981.6 L762.0,979.3 L764.0,976.9 L766.0,974.6 L768.0,972.3 L770.1,969.9 L772.1,967.6 L774.1,965.3 L776.1,963.0 L778.2,960.6 L780.2,958.3 L782.2,956.0 L784.2,953.6 L786.3,951.3 L788.3,949.0 L790.3,946.7 L792.4,944.3 L794.4,942.0 L796.4,939.7 L798.4,937.3 L800.5,935.0 L802.5,932.7 L804.5,930.4 L806.6,928.0 L808.6,925.7 L810.6,923.4 L812.6,921.0 L814.7,918.7 L816.7,916.4 L818.7,914.0 L820.7,911.7 L822.8,909.4 L824.8,907.0 L826.8,904.7 L828.8,902.4 L830.9,900.0 L832.9,897.7 L834.9,895.4 L836.9,893.0 L838.9,890.7 L841.0,888.4 L843.0,886.0 L845.0,883.7 L847.0,881.4 L849.1,879.0 L851.1,876.7 L853.1,874.4 L855.1,872.0 L857.2,869.7 L859.2,867.4 L861.2,865.0 L863.2,862.7 L865.2,860.4 L867.3,858.0 L869.3,855.7 L871.3,853.4 L873.3,851.0 L875.3,848.7 L877.4,846.4 L879.4,844.0 L881.4,841.7 L883.4,839.3 L885.4,837.0 L887.4,834.7 L889.4,832.3 L891.5,830.0 L893.5,827.6 L895.5,825.3 L897.5,822.9 L899.5,820.6 L901.5,818.3 L903.5,815.9 L905.5,813.6 L907.5,811.2 L909.5,808.8 L911.5,806.5 L913.5,804.1 L915.5,801.8 L917.5,799.4 L919.5,797.1 L921.5,794.7 L923.5,792.3 L925.4,790.0 L927.4,787.6 L929.4,785.2 L931.4,782.9 L933.4,780.5 L935.4,778.1 L937.3,775.8 L939.3,773.4 L941.3,771.0 L943.3,768.6 L945.2,766.3 L947.2,763.9 L949.2,761.5 L951.2,759.1 L953.1,756.8 L955.1,754.4 L957.1,752.0 L959.0,749.6 L961.0,747.3 L963.0,744.9 L964.9,742.5 L966.9,740.1 L968.9,737.7 L970.8,735.4 L972.8,733.0 L974.8,730.6 L976.7,728.2 L978.7,725.8 L980.7,723.4 L982.6,721.1 L984.6,718.7 L986.6,716.3 L988.5,713.9 L990.5,711.5 L992.5,709.1 L994.4,706.8 L996.4,704.4 L998.4,702.0 L1000.3,699.6 L1002.3,697.2 L1004.2,694.9 L1006.2,692.5 L1008.2,690.1 L1010.1,687.7 L1012.1,685.3 L1014.1,682.9 L1016.0,680.6 L1018.0,678.2 L1019.9,675.8 L1021.9,673.4 L1023.9,671.0 L1025.8,668.6 L1027.8,666.2 L1029.8,663.9 L1031.7,661.5 L1033.7,659.1 L1035.6,656.7 L1037.6,654.3 L1039.6,651.9 L1041.5,649.5 L1043.5,647.2 L1045.4,644.8 L1047.4,642.4 L1049.4,640.0 L1051.3,637.6 L1053.3,635.2 L1055.2,632.8 L1057.2,630.5 L1059.2,628.1 L1061.1,625.7 L1063.1,623.3 L1065.0,620.9 L1067.0,618.5 L1069.0,616.2 L1070.9,613.8 L1072.9,611.4 L1074.9,609.0 L1076.8,606.6 L1078.8,604.2 L1080.8,601.9 L1082.7,599.5 L1084.7,597.1 L1086.7,594.7 L1088.6,592.3 L1090.6,590.0 L1092.6,587.6 L1094.6,585.2 L1096.6,582.9 L1098.5,580.5 L1100.5,578.1 L1102.5,575.8 L1104.5,573.4 L1106.5,571.0 L1108.5,568.7 L1110.5,566.3 L1112.4,563.9 L1114.4,561.6 L1116.4,559.2 L1118.4,556.9 L1120.4,554.5 L1122.4,552.1 L1124.4,549.8 L1126.4,547.4 L1128.4,545.1 L1130.4,542.7 L1132.4,540.3 L1134.4,538.0 L1136.3,535.6 L1138.3,533.3 L1140.3,530.9 L1142.3,528.5 L1144.3,526.2 L1146.3,523.8 L1148.3,521.5 L1150.3,519.1 L1152.2,516.7 L1154.2,514.4 L1156.2,512.0 L1158.2,509.6 L1160.2,507.2 L1162.1,504.9 L1164.1,502.5 L1166.1,500.1 L1168.1,497.7 L1170.0,495.4 L1172.0,493.0 L1174.0,490.6 L1175.9,488.2 L1177.9,485.8 L1179.8,483.4 L1181.8,481.0 L1183.7,478.6 L1185.7,476.2 L1187.6,473.8 L1189.6,471.4 L1191.5,469.0 L1193.4,466.6 L1195.4,464.2 L1197.3,461.8 L1199.3,459.4 L1201.2,457.0 L1203.1,454.6 L1205.1,452.2 L1207.0,449.8 L1208.9,447.4 L1210.9,445.0 L1212.8,442.6 L1214.7,440.2 L1216.7,437.8 L1218.6,435.4 L1220.6,433.0 L1222.5,430.6 L1224.4,428.2 L1226.4,425.8 L1228.3,423.4 L1230.3,421.0 L1232.2,418.6 L1234.2,416.2 L1236.1,413.8 L1238.1,411.4 L1240.1,409.0 L1242.0,406.6 L1244.0,404.3 L1245.9,401.9 L1247.9,399.5 L1249.9,397.1 L1251.9,394.8 L1253.8,392.4 L1255.8,390.0 L1257.8,387.6 L1259.8,385.3 L1261.8,382.9 L1263.7,380.5 L1265.7,378.2 L1267.7,375.8 L1269.7,373.4 L1271.7,371.1 L1273.7,368.7 L1275.7,366.4 L1277.7,364.0 L1279.7,361.6 L1281.7,359.3 L1283.6,356.9 L1285.6,354.6 L1287.6,352.2 L1289.6,349.9 L1291.6,347.5 L1293.6,345.1 L1295.6,342.8 L1297.6,340.4 L1299.6,338.1 L1301.6,335.7 L1303.6,333.4 L1305.6,331.0 L1307.6,328.6 L1309.6,326.3 L1311.6,323.9 L1313.6,321.6 L1315.6,319.2 L1317.5,316.8 L1319.5,314.5 L1321.5,312.1 L1323.5,309.8 L1325.5,307.4 L1327.5,305.0 L1329.5,302.7 L1331.5,300.3 L1333.4,297.9 L1335.4,295.6 L1337.4,293.2 L1339.4,290.8 L1341.3,288.4 L1343.3,286.1 L1345.3,283.7 L1347.2,281.3 L1349.2,278.9 L1351.2,276.5 L1353.1,274.1 L1355.1,271.8 L1357.1,269.4 L1359.0,267.0 L1361.0,264.6 L1362.9,262.2 L1364.9,259.8 L1366.8,257.4 L1368.8,255.0 L1370.8,252.7 L1372.7,250.3 L1374.7,247.9 L1376.6,245.5 L1378.6,243.1 L1380.5,240.7 L1382.5,238.3 L1384.4,235.9 L1386.4,233.5 L1388.4,231.1 L1390.3,228.8 L1392.3,226.4 L1394.2,224.0 L1396.2,221.6 L1398.2,219.2 L1400.1,216.8 L1402.1,214.5 L1404.1,212.1 L1406.0,209.7 L1408.0,207.3 L1410.0,204.9 L1412.0,202.6 L1413.9,200.2 L1415.9,197.8 L1417.9,195.5 L1419.9,193.2 L1422.0,190.9 L1424.0,188.5 L1426.1,186.3 L1428.2,184.0 L1430.3,181.7 L1432.4,179.4 L1434.5,177.2 L1436.6,174.9 L1438.7,172.7 L1440.9,170.5 L1443.0,168.2 L1445.1,166.0 L1447.2,163.7 L1449.4,161.5 L1451.5,159.3 L1453.6,157.0 L1455.7,154.8 L1457.8,152.5 L1459.9,150.2 L1462.0,147.9 L1464.1,145.7 L1466.2,143.4 L1468.2,141.0 L1470.2,138.7 L1472.2,136.4 L1474.2,134.0 L1476.2,131.6 L1478.1,129.2 L1480.0,126.7 L1481.9,124.3 L1483.8,121.8 L1485.6,119.4 L1487.5,116.9 L1489.4,114.5 L1491.0,112.0 L1492.5,109.3 L1494.1,106.7 L1496.0,104.1 L1498.6,102.3 L1501.4,102.3 L1504.0,104.5" stroke="#FFC000" stroke-width="12.6"/>
<path class="d-green" d="M496.5,1347.8h0 M512.2,1329.3h0 M527.7,1310.7h0 M542.9,1291.9h0 M557.9,1272.9h0 M572.9,1253.9h0 M587.9,1234.8h0 M602.9,1215.8h0 M618.0,1196.9h0 M633.2,1178.0h0 M648.3,1159.1h0 M663.6,1140.3h0 M678.8,1121.5h0 M694.0,1102.7h0 M709.4,1083.9h0 M724.9,1065.3h0 M740.4,1046.8h0 M756.0,1028.2h0 M771.4,1009.5h0 M786.7,990.7h0 M801.6,971.6h0 M816.3,952.4h0 M831.0,933.1h0 M845.8,914.0h0 M861.0,895.1h0 M876.3,876.3h0 M891.6,857.6h0 M907.0,838.9h0 M922.4,820.2h0 M937.8,801.5h0 M953.2,782.9h0 M968.8,764.3h0 M984.4,745.7h0 M999.9,727.2h0 M1015.4,708.6h0 M1030.7,689.8h0 M1045.6,670.7h0 M1060.2,651.4h0 M1074.8,632.1h0 M1089.6,612.9h0 M1104.9,594.1h0 M1120.4,575.5h0 M1135.9,556.9h0 M1151.6,538.4h0 M1167.1,519.9h0 M1182.5,501.2h0 M1197.8,482.4h0 M1213.2,463.7h0 M1228.5,444.9h0 M1243.8,426.1h0 M1259.0,407.3h0 M1274.3,388.5h0 M1289.5,369.7h0 M1304.8,350.9h0 M1320.0,332.0h0 M1335.2,313.2h0" stroke="#8ACC46" stroke-width="9.2" stroke-linecap="square"/>
<path class="d-blue" d="M463.7,1278.4h0 M477.2,1258.7h0 M493.0,1240.7h0 M509.0,1222.8h0 M525.0,1205.0h0 M541.2,1187.3h0 M557.7,1169.8h0 M574.3,1152.6h0 M589.5,1134.1h0 M604.1,1115.0h0 M617.9,1095.4h0 M631.6,1075.8h0 M646.1,1056.7h0 M660.6,1037.6h0 M675.1,1018.5h0 M689.6,999.4h0 M704.1,980.3h0 M718.6,961.2h0 M733.1,942.1h0 M747.6,923.0h0 M762.0,903.9h0 M777.2,885.3h0 M792.5,866.9h0 M807.9,848.5h0 M823.2,830.1h0 M838.5,811.6h0 M853.8,793.1h0 M868.9,774.5h0 M883.9,755.8h0 M898.9,737.1h0 M913.9,718.4h0 M929.0,699.8h0 M944.1,681.2h0 M959.3,662.6h0 M974.4,644.0h0 M989.6,625.4h0 M1004.7,606.8h0 M1019.8,588.2h0 M1034.8,569.5h0 M1049.7,550.7h0 M1064.5,531.9h0 M1079.8,513.5h0 M1096.1,495.8h0 M1112.2,478.0h0 M1128.0,460.1h0 M1143.7,441.9h0 M1159.0,423.4h0 M1173.9,404.7h0 M1187.6,385.0h0 M1200.3,364.7h0 M1213.5,344.7h0" stroke="#0A6FC2" stroke-width="9.2" stroke-linecap="square"/>
<path class="d-lblue" d="M650.6,1096.0h0 M665.9,1077.5h0 M681.2,1059.1h0 M696.6,1040.7h0 M712.0,1022.4h0 M727.5,1004.1h0 M742.4,985.4h0 M757.1,966.5h0 M771.9,947.6h0 M786.6,928.7h0 M801.3,909.8h0 M815.9,890.8h0 M831.0,872.2h0 M846.6,854.0h0 M862.1,835.8h0 M877.6,817.5h0 M893.1,799.2h0 M908.3,780.8h0 M923.5,762.2h0 M938.5,743.6h0 M953.6,725.0h0 M968.7,706.4h0 M984.0,687.9h0 M999.3,669.5h0 M1014.6,651.0h0 M1029.9,632.6h0 M1045.2,614.2h0 M1060.5,595.8h0 M1075.9,577.4h0 M1091.3,559.1h0 M1106.7,540.8h0 M1122.1,522.4h0 M1137.5,504.0h0 M1152.7,485.5h0 M1167.8,467.0h0 M1183.0,448.4h0 M1198.8,430.4h0 M1214.6,412.5h0 M1230.5,394.6h0 M1246.5,376.7h0 M1262.5,358.9h0 M1278.2,340.8h0 M1293.6,322.5h0 M1309.0,304.1h0 M1324.2,285.5h0 M1339.2,266.9h0 M1354.1,248.2h0 M1369.0,229.4h0 M1384.0,210.7h0 M1399.2,192.2h0 M1414.5,173.8h0" stroke="#6A9BDC" stroke-width="9.2" stroke-linecap="square"/>
<path class="d-orange" d="M440.0,1276.8h0 M453.1,1256.8h0 M469.0,1238.8h0 M484.8,1220.7h0 M500.4,1202.4h0 M515.7,1183.9h0 M530.9,1165.3h0 M545.9,1146.6h0 M560.0,1127.1h0 M574.0,1107.6h0 M588.2,1088.2h0 M602.6,1069.0h0 M617.3,1050.0h0 M631.9,1031.0h0 M646.6,1011.9h0 M661.2,992.8h0 M675.7,973.8h0 M690.3,954.7h0 M704.8,935.5h0 M719.3,916.4h0 M733.8,897.2h0 M748.9,878.5h0 M763.9,859.8h0 M779.0,841.1h0 M794.1,822.4h0 M809.2,803.7h0 M824.3,785.0h0 M839.4,766.4h0 M854.5,747.7h0 M869.6,729.0h0 M884.7,710.3h0 M899.8,691.6h0 M914.9,673.0h0 M930.1,654.4h0 M945.3,635.8h0 M960.5,617.2h0 M975.7,598.6h0 M990.8,579.9h0 M1005.8,561.1h0 M1020.6,542.3h0 M1035.4,523.3h0 M1049.9,504.2h0 M1065.5,486.0h0 M1080.7,467.3h0 M1095.4,448.4h0 M1110.7,429.9h0 M1126.1,411.4h0" stroke="#E2690C" stroke-width="9.2" stroke-linecap="square"/>
<path class="d-yellow" d="M718.8,1037.9h0 M734.3,1019.5h0 M750.0,1001.2h0 M765.7,983.0h0 M781.5,964.8h0 M796.6,945.9h0 M811.3,926.9h0 M826.0,907.8h0 M841.3,889.2h0 M857.0,870.9h0 M872.8,852.7h0 M888.5,834.5h0 M904.2,816.1h0 M919.8,797.8h0 M935.2,779.3h0 M950.7,760.8h0 M966.0,742.2h0 M981.3,723.6h0 M996.6,705.0h0 M1012.0,686.4h0 M1027.3,667.8h0 M1042.5,649.1h0 M1057.8,630.5h0 M1073.1,611.9h0 M1088.5,593.3h0 M1103.9,574.8h0 M1119.4,556.4h0 M1134.9,537.9h0 M1150.5,519.5h0 M1165.9,501.0h0 M1181.2,482.4h0 M1196.3,463.6h0 M1211.4,444.8h0 M1226.6,426.1h0 M1241.8,407.4h0 M1257.2,388.8h0 M1272.6,370.4h0 M1288.2,352.0h0 M1303.7,333.5h0 M1319.3,315.1h0 M1334.7,296.7h0 M1350.1,278.1h0 M1365.4,259.5h0 M1380.6,240.8h0 M1395.9,222.2h0 M1411.2,203.6h0 M1427.0,185.4h0 M1443.5,167.8h0 M1460.0,150.2h0" stroke="#FFC000" stroke-width="9.2" stroke-linecap="square"/>
<path class="d-gray" d="M631.3,1140.9h0 M646.3,1122.3h0 M662.1,1104.4h0 M678.1,1086.6h0 M694.2,1068.9h0 M710.3,1051.3h0 M726.4,1033.5h0 M742.3,1015.7h0 M758.0,997.7h0 M773.2,979.2h0 M788.2,960.7h0 M803.3,942.1h0 M818.3,923.5h0 M833.4,904.9h0 M848.9,886.8h0 M864.6,868.7h0 M880.4,850.7h0 M896.1,832.7h0 M911.7,814.6h0 M927.1,796.3h0 M942.4,777.9h0 M957.7,759.6h0 M973.0,741.2h0 M988.2,722.7h0 M1003.4,704.3h0 M1018.7,685.9h0 M1033.9,667.4h0 M1049.1,649.0h0 M1064.3,630.5h0 M1079.5,612.1h0 M1094.8,593.7h0 M1110.1,575.3h0 M1125.5,557.0h0 M1140.9,538.8h0 M1156.4,520.5h0 M1171.7,502.2h0 M1187.1,483.9h0 M1202.4,465.5h0 M1217.7,447.1h0 M1232.9,428.7h0 M1248.3,410.3h0 M1263.7,392.1h0 M1279.3,374.0h0 M1294.9,355.9h0 M1310.5,337.7h0 M1325.9,319.4h0 M1341.2,301.1h0 M1356.5,282.7h0 M1371.8,264.3h0 M1387.0,245.9h0 M1402.3,227.5h0 M1417.5,209.0h0 M1432.6,190.5h0 M1447.8,172.0h0 M1462.9,153.5h0" stroke="#9b9ba6" stroke-width="7.6" stroke-linecap="round"/>
</g>
<path d="M1051,862.4 H1212" stroke="#8ACC46" stroke-width="10.2" stroke-linecap="round" fill="none"/>
<path d="M1051,951 H1212" stroke="#0A6FC2" stroke-width="10.2" stroke-linecap="round" fill="none"/>
<path d="M1051,1042.4 H1212" stroke="#6A9BDC" stroke-width="10.2" stroke-linecap="round" fill="none"/>
<path d="M1051,1130.5 H1212" stroke="#E2690C" stroke-width="10.2" stroke-linecap="round" fill="none"/>
<path d="M1051,1222.7 H1212" stroke="#A5A5A5" stroke-width="10.2" stroke-linecap="round" fill="none"/>
<path d="M1051,1310.5 H1212" stroke="#FFC000" stroke-width="10.2" stroke-linecap="round" fill="none"/>
</g>
<g class="txt" font-family="'Liberation Serif', 'DejaVu Serif', serif" fill="#111">
<text x="271.3" y="144.5" font-size="84" text-anchor="end">10<tspan class="c" dx="-1.2" dy="4.3">^</tspan><tspan dx="-1.2" dy="-4.3">5</tspan></text>
<text x="271.3" y="392.5" font-size="84" text-anchor="end">10<tspan class="c" dx="-1.2" dy="4.3">^</tspan><tspan dx="-1.2" dy="-4.3">5</tspan></text>
<text x="271.3" y="640.3" font-size="84" text-anchor="end">10<tspan class="c" dx="-1.2" dy="4.3">^</tspan><tspan dx="-1.2" dy="-4.3">4</tspan></text>
<text x="271.3" y="889" font-size="84" text-anchor="end">10<tspan class="c" dx="-1.2" dy="4.3">^</tspan><tspan dx="-1.2" dy="-4.3">4</tspan></text>
<text x="271.3" y="1141" font-size="84" text-anchor="end">10<tspan class="c" dx="-1.2" dy="4.3">^</tspan><tspan dx="-1.2" dy="-4.3">3</tspan></text>
<text x="271.3" y="1389" font-size="84" text-anchor="end">10<tspan class="c" dx="-1.2" dy="4.3">^</tspan><tspan dx="-1.2" dy="-4.3">3</tspan></text>
<text x="341.0" y="1483.5" font-size="84" text-anchor="middle">10<tspan class="c" dx="-1.2" dy="4.3">^</tspan><tspan dx="-1.2" dy="-4.3">3</tspan></text>
<text x="845.0" y="1483.5" font-size="84" text-anchor="middle">10<tspan class="c" dx="-1.2" dy="4.3">^</tspan><tspan dx="-1.2" dy="-4.3">4</tspan></text>
<text x="1349.0" y="1483.5" font-size="84" text-anchor="middle">10<tspan class="c" dx="-1.2" dy="4.3">^</tspan><tspan dx="-1.2" dy="-4.3">5</tspan></text>
<text x="1853.0" y="1483.5" font-size="84" text-anchor="middle">10<tspan class="c" dx="-1.2" dy="4.3">^</tspan><tspan dx="-1.2" dy="-4.3">6</tspan></text>
<text x="1095" y="1567.2" font-size="84" text-anchor="middle">log(G&#39;&#39;)</text>
<text transform="translate(84,688.2) rotate(-90)" font-size="84" text-anchor="middle">log(G&#39;)</text>
<text x="1227.5 1269.5 1320.5 1374.5 1419.5 1458.5 1497.5 1518.5 1560.5 1605.5 1659.5 1698.5" y="888.5" font-size="75" xml:space="preserve">PBAT80/PLA20</text>
<text x="1227.5 1266.5 1284.5 1323.5 1386.5 1404.5 1458.5 1509.5" y="976.3" font-size="75" xml:space="preserve">0.1% DCP</text>
<text x="1227.5 1281.5 1332.5 1374.5 1395.5 1449.5 1515.5 1569.5 1590.5 1656.5 1710.5 1728.5 1767.5 1788.5 1827.5 1848.5" y="1064.1" font-size="75" xml:space="preserve">DCP:GMA:MA 1:1:1</text>
<text x="1227.5 1281.5 1332.5 1374.5 1395.5 1449.5 1515.5 1569.5 1587.5 1626.5 1647.5" y="1156" font-size="75" xml:space="preserve">DCP:GMA 1:2</text>
<text x="1227.5 1281.5 1332.5 1374.5 1395.5 1461.5 1515.5 1533.5 1572.5 1593.5" y="1243.8" font-size="75" xml:space="preserve">DCP:MA 1:2</text>
<text x="1227.5 1281.5 1332.5 1374.5 1395.5 1449.5 1515.5 1569.5 1587.5 1626.5 1647.5" y="1335.3" font-size="75" xml:space="preserve">DCP:GMA 1:1</text>
</g>
</svg>
</body>
</html>
